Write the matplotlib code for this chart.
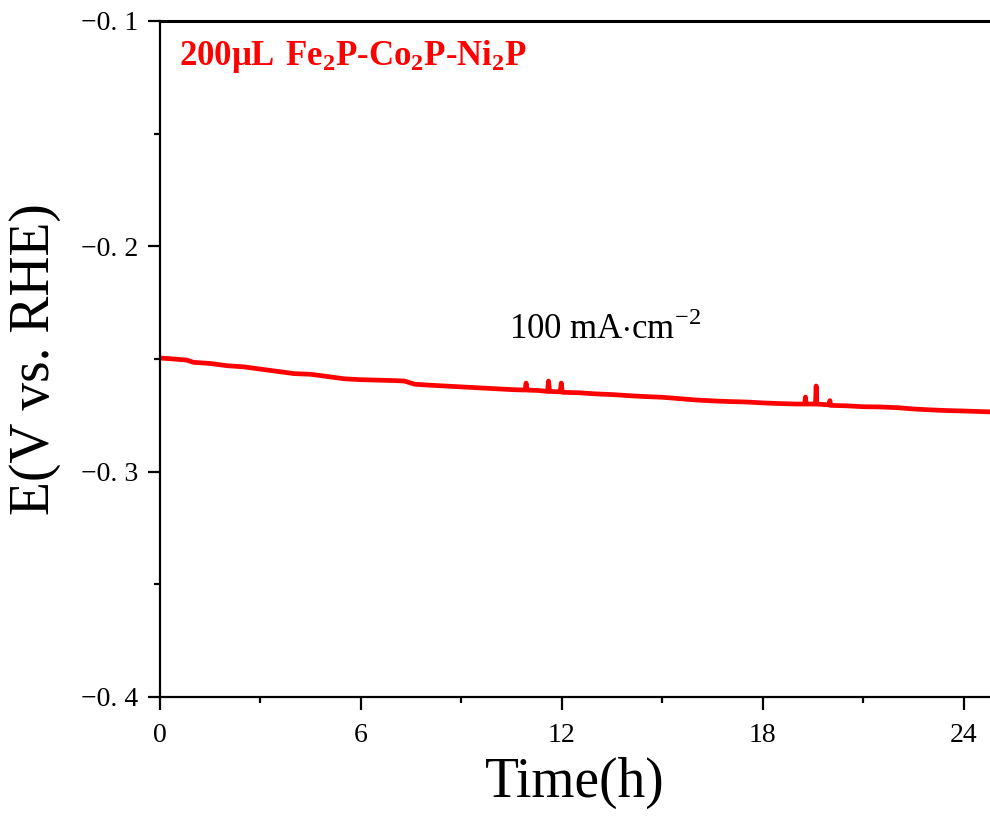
import matplotlib.pyplot as plt
from matplotlib.ticker import FixedLocator, FixedFormatter, MultipleLocator

plt.rcParams['font.family'] = ['Liberation Serif', 'DejaVu Serif']
plt.rcParams['mathtext.fontset'] = 'custom'
plt.rcParams['mathtext.rm'] = 'Liberation Serif'
plt.rcParams['mathtext.bf'] = 'Liberation Serif:bold'

# chronopotentiometry trace (time in h, E in V vs. RHE)
time_h = [0.0, 0.4, 0.8, 1.0, 1.5, 2.0, 2.5, 3.0, 3.5, 4.0, 4.5, 5.0, 5.5,
          6.0, 6.5, 7.0, 7.3, 7.6, 8.0, 8.5, 9.0, 9.5, 10.0, 10.5, 10.9,
          10.93, 10.96, 11.3, 11.57, 11.6, 11.63, 11.95, 11.98, 12.01, 12.5,
          13.0, 13.5, 14.0, 14.5, 15.0, 15.5, 16.0, 16.5, 17.0, 17.5, 18.0,
          18.5, 19.0, 19.25, 19.27, 19.29, 19.57, 19.59, 19.61, 19.98, 20.0,
          20.02, 20.5, 21.0, 21.5, 22.0, 22.5, 23.0, 23.5, 24.0, 24.4, 24.8]
potential = [-0.2496, -0.2500, -0.2505, -0.2515, -0.2520, -0.2530, -0.2535,
             -0.2545, -0.2555, -0.2565, -0.2568, -0.2578, -0.2588, -0.2592,
             -0.2594, -0.2596, -0.2598, -0.2612, -0.2616, -0.2620, -0.2624,
             -0.2628, -0.2632, -0.2636, -0.2638, -0.2607, -0.2638, -0.2640,
             -0.2644, -0.2598, -0.2644, -0.2646, -0.2607, -0.2648, -0.2650,
             -0.2655, -0.2658, -0.2663, -0.2667, -0.2670, -0.2676, -0.2682,
             -0.2686, -0.2689, -0.2691, -0.2695, -0.2698, -0.2700, -0.2700,
             -0.2669, -0.2700, -0.2700, -0.2620, -0.2700, -0.2704, -0.2685,
             -0.2706, -0.2708, -0.2712, -0.2713, -0.2716, -0.2722, -0.2726,
             -0.2729, -0.2731, -0.2733, -0.2735]

y_ticks = [-0.4, -0.3, -0.2, -0.1]
y_tick_labels = ["\u22120. 4", "\u22120. 3", "\u22120. 2", "\u22120. 1"]
x_ticks = [0, 6, 12, 18, 24]

fig = plt.figure(figsize=(9.9, 8.25), dpi=100)
ax = fig.add_axes([0.1616, 0.1552, 0.8384, 0.8194])

ax.plot(time_h, potential, color='#ff0000', lw=3.4)

ax.set_xlim(0, 24.78)
ax.set_ylim(-0.4, -0.1)

ax.xaxis.set_major_locator(FixedLocator(x_ticks))
ax.xaxis.set_minor_locator(MultipleLocator(3))
ax.yaxis.set_major_locator(FixedLocator(y_ticks))
ax.yaxis.set_major_formatter(FixedFormatter(y_tick_labels))
ax.yaxis.set_minor_locator(MultipleLocator(0.05))

ax.spines['right'].set_visible(False)
for s in ['left', 'bottom', 'top']:
    ax.spines[s].set_linewidth(1.6)
ax.spines['top'].set_linewidth(2.2)

ax.tick_params(which='major', direction='out', length=9, width=1.6,
               labelsize=20, top=False, right=False)
ax.tick_params(which='minor', direction='out', length=4.5, width=1.6,
               top=False, right=False)
ax.tick_params(axis='x', which='major', pad=10)
ax.tick_params(axis='y', which='major', pad=7)

ax.set_xlabel("Time(h)", fontsize=40, labelpad=6)
ax.set_ylabel("E(V vs. RHE)", fontsize=40, labelpad=14)

ax.text(0.023, 0.947, r"$\mathbf{200\mu L\ Fe_2P\text{-}Co_2P\text{-}Ni_2P}$",
        transform=ax.transAxes, color='#ff0000', fontsize=25,
        va='center', ha='left')
ax.text(13.3, -0.2368, r"100 mA$\cdot$cm$^{-2}$", fontsize=25,
        ha='center', va='center')

fig.savefig("out.png", dpi=100)
